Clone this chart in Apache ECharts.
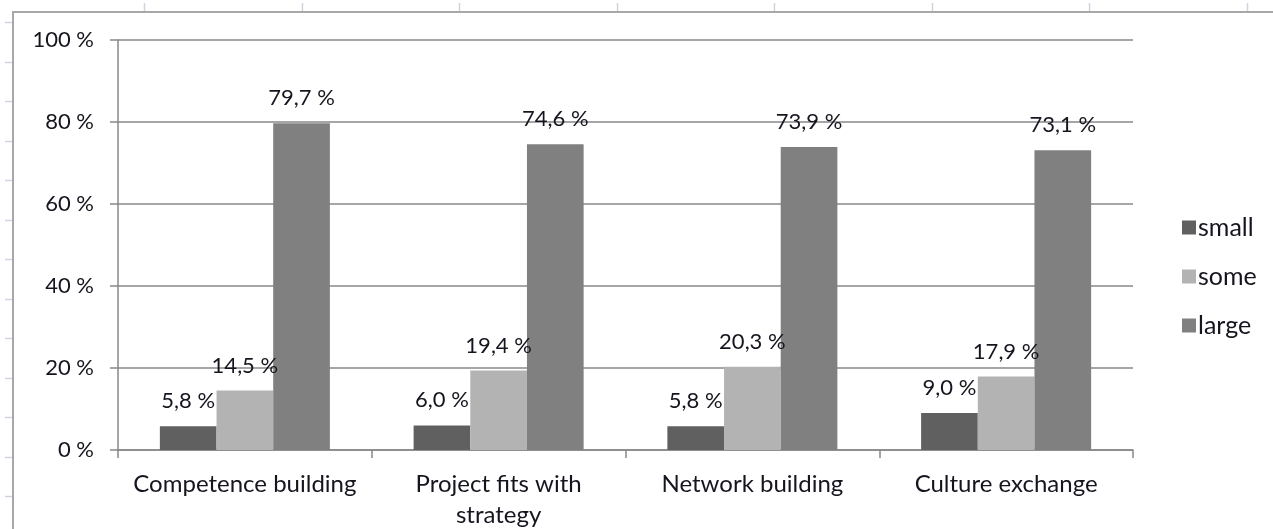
<!DOCTYPE html>
<html>
<head>
<meta charset="utf-8">
<script src="https://cdn.jsdelivr.net/npm/echarts@6/dist/echarts.min.js"></script>
<style>
  html, body { margin: 0; padding: 0; background: #ffffff; }
  #chart { width: 1273px; height: 529px; }
</style>
</head>
<body>
<div id="chart"></div>
<script>
// Share of respondents rating each benefit small / some / large
const categories = ['Competence building', 'Project fits with\nstrategy', 'Network building', 'Culture exchange'];
const seriesNames = ['small', 'some', 'large'];
const smallValues = [5.8, 6.0, 5.8, 9.0];
const someValues = [14.5, 19.4, 20.3, 17.9];
const largeValues = [79.7, 74.6, 73.9, 73.1];
const yTicks = [0, 20, 40, 60, 80, 100];

const FONT = 'Lato, "Open Sans", sans-serif';
const TEXT = '#15151f';
const LINE = '#888888';
const colors = ['#606060', '#b3b3b3', '#808080'];

const pct = v => v.toFixed(1).replace('.', ',') + ' %';

// Window frame: border lines and faint ruler ticks
const frame = [];
frame.push({ type: 'line', shape: { x1: 13, y1: 12, x2: 13, y2: 529 }, style: { stroke: '#a8a8a8', lineWidth: 2 }, silent: true });
frame.push({ type: 'line', shape: { x1: 12, y1: 12, x2: 1273, y2: 12 }, style: { stroke: '#a8a8a8', lineWidth: 2 }, silent: true });
for (let k = 0; k < 13; k++) {
  const y = Math.round(22 + 39.5 * k) + 0.5;
  frame.push({ type: 'line', shape: { x1: 5, y1: y, x2: 12, y2: y }, style: { stroke: '#ccd4e2', lineWidth: 1.5 }, silent: true });
}
for (let k = 0; k < 8; k++) {
  const x = Math.round(144 + 157.5 * k) + 0.5;
  frame.push({ type: 'line', shape: { x1: x, y1: 3, x2: x, y2: 11 }, style: { stroke: '#ccd4e2', lineWidth: 1.5 }, silent: true });
}

function barSeries(name, values, color) {
  return {
    name: name,
    type: 'bar',
    data: values,
    barGap: '0%',
    barCategoryGap: '33%',
    itemStyle: { color: color },
    label: {
      show: true,
      position: 'top',
      distance: 14,
      formatter: p => pct(p.value),
      fontFamily: FONT,
      fontSize: 22,
      color: TEXT
    },
    emphasis: { disabled: true }
  };
}

const chart = echarts.init(document.getElementById('chart'), null, { renderer: 'canvas' });
chart.setOption({
  animation: false,
  backgroundColor: '#ffffff',
  grid: { left: 118, right: 140, top: 40, bottom: 79, containLabel: false, outerBoundsMode: 'none' },
  legend: {
    orient: 'vertical',
    left: 1177,
    top: 209,
    itemWidth: 14,
    itemHeight: 14,
    itemGap: 22,
    icon: 'rect',
    data: seriesNames,
    textStyle: { fontFamily: FONT, fontSize: 25, color: TEXT, lineHeight: 27, padding: [0, 0, 0, -3] }
  },
  xAxis: {
    type: 'category',
    data: categories,
    axisLine: { show: true, lineStyle: { color: LINE, width: 1.5 } },
    axisTick: { show: true, length: 8, alignWithLabel: false, lineStyle: { color: LINE, width: 1.5 } },
    axisLabel: { fontFamily: FONT, fontSize: 24, color: TEXT, margin: 19, lineHeight: 31, interval: 0 }
  },
  yAxis: {
    type: 'value',
    min: yTicks[0],
    max: yTicks[yTicks.length - 1],
    interval: yTicks[1] - yTicks[0],
    axisLine: { show: true, lineStyle: { color: LINE, width: 1.5 } },
    axisTick: { show: true, length: 8, lineStyle: { color: LINE, width: 1.5 } },
    axisLabel: { formatter: '{value} %', fontFamily: FONT, fontSize: 22, color: TEXT, margin: 24 },
    splitLine: { show: true, lineStyle: { color: LINE, width: 1.5 } }
  },
  series: [
    barSeries(seriesNames[0], smallValues, colors[0]),
    barSeries(seriesNames[1], someValues, colors[1]),
    barSeries(seriesNames[2], largeValues, colors[2])
  ],
  graphic: frame
});
</script>
</body>
</html>
